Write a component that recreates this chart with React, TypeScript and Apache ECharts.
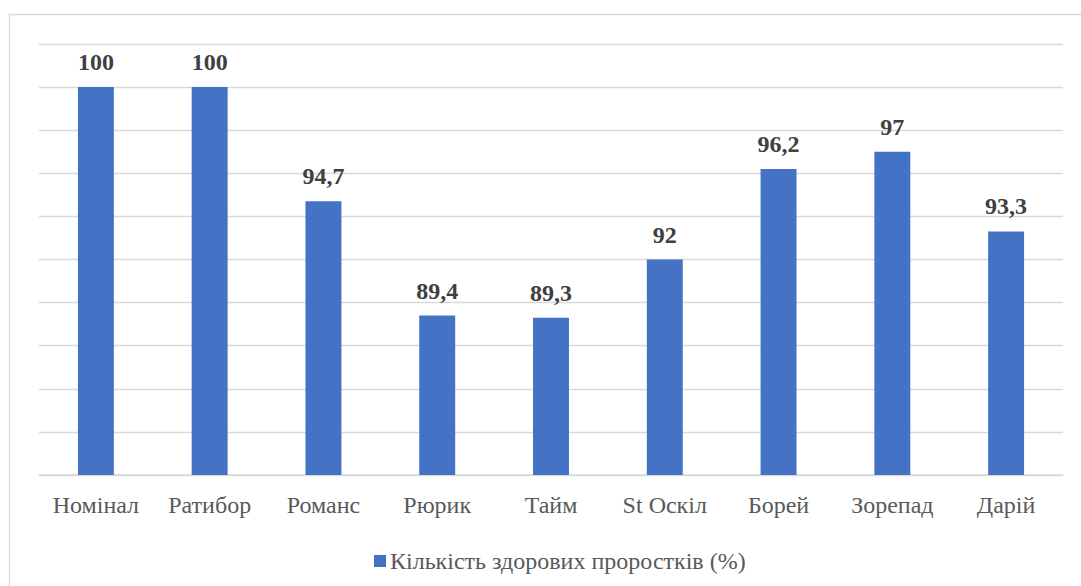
import React, { useEffect, useRef } from "react";
import * as echarts from "echarts";

const categories = ["Номінал", "Ратибор", "Романс", "Рюрик", "Тайм", "St Оскіл", "Борей", "Зорепад", "Дарій"];
const values = [100, 100, 94.7, 89.4, 89.3, 92, 96.2, 97, 93.3];
const seriesName = "Кількість здорових проростків (%)";

const SERIF = "Liberation Serif";

export default function App() {
  const ref = useRef<HTMLDivElement>(null);
  useEffect(() => {
    const chart = echarts.init(ref.current!, null, { renderer: "svg" });
    chart.setOption({
      animation: false,
      backgroundColor: "#ffffff",
      graphic: [
        {
          type: "rect",
          shape: { x: 9.5, y: 14.5, width: 1100, height: 600 },
          style: { fill: "none", stroke: "#d9d9d9", lineWidth: 1.3 },
          silent: true,
        },
      ],
      grid: { left: 39, right: 18, top: 44, bottom: 111, containLabel: false },
      legend: {
        data: [seriesName],
        left: 369,
        top: 544,
        itemWidth: 12,
        itemHeight: 12,
        itemGap: 5,
        icon: "rect",
        textStyle: { fontFamily: SERIF, fontSize: 24, color: "#595959", padding: [0, 0, 0, -1] },
      },
      xAxis: {
        type: "category",
        data: categories,
        axisLine: { lineStyle: { color: "#d9d9d9", width: 1.5 } },
        axisTick: { show: false },
        axisLabel: { fontFamily: SERIF, fontSize: 24, color: "#595959", margin: 18 },
      },
      yAxis: {
        type: "value",
        min: 82,
        max: 102,
        interval: 2,
        axisLabel: { show: false },
        axisLine: { show: false },
        axisTick: { show: false },
        splitLine: { lineStyle: { color: "#d9d9d9", width: 1.3 } },
      },
      series: [
        {
          name: seriesName,
          type: "bar",
          data: values,
          barWidth: "31.6%",
          itemStyle: { color: "#4472C4" },
          label: {
            show: true,
            position: "top",
            distance: 13,
            fontFamily: SERIF,
            fontWeight: "bold",
            fontSize: 24,
            color: "#404040",
            formatter: (p: any) => String(p.value).replace(".", ","),
          },
        },
      ],
    });
    return () => chart.dispose();
  }, []);
  return <div ref={ref} style={{ position: "absolute", left: 0, top: 0, width: 1081, height: 586 }} />;
}
